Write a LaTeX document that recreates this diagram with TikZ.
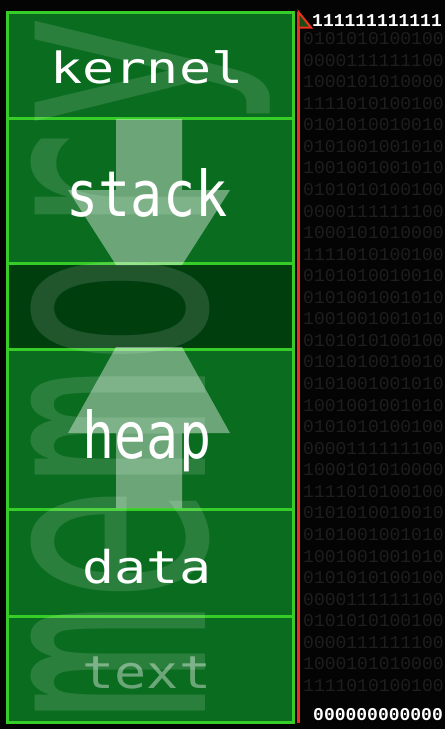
\documentclass[tikz,border=0pt]{standalone}
\usepackage{fontspec}
\usepackage{graphicx}
\newfontfamily\labelfont{DejaVu Sans Mono}
\newfontfamily\binfont{Liberation Mono}
\definecolor{bgblack}{RGB}{4,4,4}
\definecolor{bitgray}{RGB}{30,30,30}
\definecolor{boxgreen}{RGB}{10,108,30}
\definecolor{gapgreen}{RGB}{0,62,14}
\definecolor{bordergreen}{RGB}{55,205,40}
\definecolor{redline}{RGB}{235,50,28}
\definecolor{tipgreen}{RGB}{30,75,20}
\tikzset{
  membox/.style={draw=bordergreen, line width=3pt, fill=boxgreen, minimum width=286pt, inner sep=0pt},
  gapbox/.style={membox, fill=gapgreen},
  memlabel/.style={text=white, inner sep=0pt, anchor=base, font=\labelfont\fontsize{43}{43}\selectfont},
  bitrow/.style={text=bitgray, inner sep=0pt, anchor=base west, font=\binfont\fontsize{18}{18}\selectfont},
  whiterow/.style={text=white, inner sep=0pt, anchor=base west, font=\binfont\bfseries\fontsize{18}{18}\selectfont},
  ghost/.style={fill=white, fill opacity=0.4, draw=none},
}
\begin{document}
\begin{tikzpicture}[x=1pt,y=-1pt]
\useasboundingbox (0,0) rectangle (445,729);
\fill[bgblack] (0,0) rectangle (445,729);
% background bits
\foreach \r [count=\k from 1] in {
0101010100100,0000111111100,1000101010000,1111010100100,0101010010010,0101001001010,
1001001001010,0101010100100,0000111111100,1000101010000,1111010100100,0101010010010,0101001001010,
1001001001010,0101010100100,0101010010010,0101001001010,1001001001010,0101010100100,0000111111100,
1000101010000,1111010100100,0101010010010,0101001001010,1001001001010,0101010100100,0000111111100,
0101010100100,0000111111100,1000101010000,1111010100100}
{ \node[bitrow] (bits\k) at (303, {23+21.56*\k}) {\r}; }
% memory boxes
\node[membox, minimum height=106pt] (kernel) at (150,65) {};
\node[membox, minimum height=145pt] (stack) at (150,190.5) {};
\node[gapbox, minimum height=86pt] (gap) at (150,306) {};
\node[membox, minimum height=160pt] (heap) at (150,429) {};
\node[membox, minimum height=107pt] (data) at (150,562.5) {};
\node[membox, minimum height=106pt] (text) at (150,669) {};
% ghost word
\node[text=white, text opacity=0.13, inner sep=0pt, rotate=90, yscale=1.59, anchor=base west,
      font=\labelfont\fontsize{196}{196}\selectfont] (word) at (205,722) {memory};
% growth arrows
\path[ghost] (116,119) -- (116,190) -- (68,190) -- (116,265) -- (182,265) -- (230,190)
  -- (182,190) -- (182,119) -- cycle;
\path[ghost] (116,508) -- (116,433) -- (68,433) -- (116,347) -- (182,347) -- (230,433)
  -- (182,433) -- (182,508) -- cycle;
% labels
\node[memlabel] (lkernel) at (147,83) {\scalebox{1.24}[1]{kernel}};
\node[memlabel] (lstack) at (147,216) {\scalebox{1.24}[1.47]{stack}};
\node[memlabel] (lheap) at (147,458) {\scalebox{1.24}[1.5]{heap}};
\node[memlabel] (ldata) at (147,583) {\scalebox{1.24}[1.05]{data}};
\node[memlabel, text opacity=0.4] (ltext) at (147,688) {\scalebox{1.24}[1.05]{text}};
% address axis
\coordinate (axtop) at (298.5,12);
\coordinate (axbot) at (298.5,723);
\draw[redline, line width=3.5pt] (axbot) -- (axtop);
\filldraw[draw=redline, fill=tipgreen, line width=2pt, line join=miter] (axtop) -- (311,27.5) -- (298.5,27.5) -- cycle;
\node[whiterow] (ones) at (312,26.5) {111111111111};
\node[whiterow] (zeros) at (313,720) {000000000000};
\end{tikzpicture}
\end{document}
